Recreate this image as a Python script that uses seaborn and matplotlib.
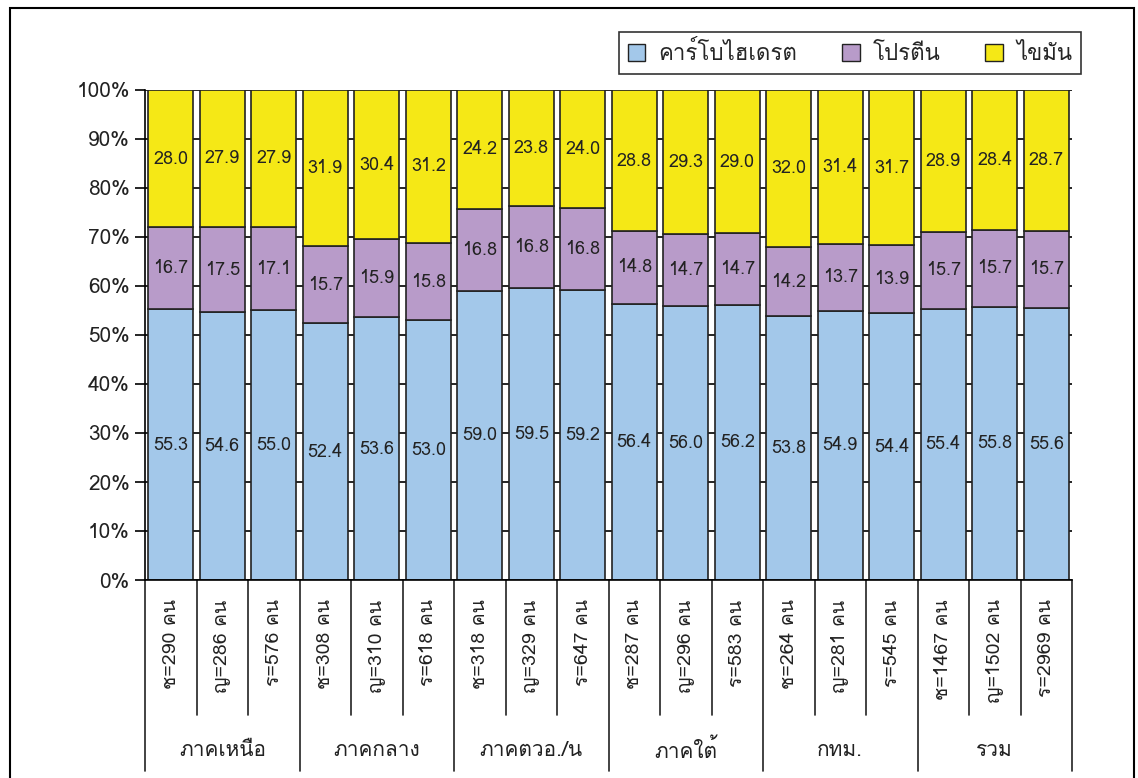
import matplotlib
matplotlib.use("Agg")
import matplotlib.pyplot as plt
import matplotlib.patches as mpatches
from matplotlib import font_manager as fm
from fontTools.ttLib import TTFont
import seaborn as sns
import pandas as pd
import numpy as np

# ── data
groups = ["ภาคเหนือ", "ภาคกลาง", "ภาคตวอ./น", "ภาคใต้", "กทม.", "รวม"]
n_labels = ["ช=290 คน", "ญ=286 คน", "ร=576 คน",
            "ช=308 คน", "ญ=310 คน", "ร=618 คน",
            "ช=318 คน", "ญ=329 คน", "ร=647 คน",
            "ช=287 คน", "ญ=296 คน", "ร=583 คน",
            "ช=264 คน", "ญ=281 คน", "ร=545 คน",
            "ช=1467 คน", "ญ=1502 คน", "ร=2969 คน"]
carb = [55.3, 54.6, 55.0, 52.4, 53.6, 53.0, 59.0, 59.5, 59.2,
        56.4, 56.0, 56.2, 53.8, 54.9, 54.4, 55.4, 55.8, 55.6]
protein = [16.7, 17.5, 17.1, 15.7, 15.9, 15.8, 16.8, 16.8, 16.8,
           14.8, 14.7, 14.7, 14.2, 13.7, 13.9, 15.7, 15.7, 15.7]
fat = [28.0, 27.9, 27.9, 31.9, 30.4, 31.2, 24.2, 23.8, 24.0,
       28.8, 29.3, 29.0, 32.0, 31.4, 31.7, 28.9, 28.4, 28.7]
series_names = ["คาร์โบไฮเดรต", "โปรตีน", "ไขมัน"]
colors = ["#A3C8EA", "#B89BC9", "#F5E816"]

# ── find a font with Thai glyphs
def thai_font():
    for f in fm.fontManager.ttflist:
        try:
            cmap = TTFont(f.fname, fontNumber=0, lazy=True).getBestCmap()
        except Exception:
            continue
        if cmap and ord("ค") in cmap and ord("0") in cmap:
            return f.name
    return "DejaVu Sans"

sns.set_style("white")
FONT = thai_font()
plt.rcParams["font.family"] = [FONT, "DejaVu Sans"]

df = pd.DataFrame({"label": n_labels, "carb": carb, "protein": protein, "fat": fat})
df["c1"] = df["carb"] + df["protein"]

fig = plt.figure(figsize=(11.38, 7.78), dpi=100)
ax = fig.add_axes([145/1138, 198/778, 927/1138, 490/778])

# gridlines first
for v in range(0, 101, 10):
    ax.axhline(v, color="black", lw=1.2, zorder=0)

bar_kw = dict(order=n_labels, width=0.88, edgecolor="#222222", linewidth=1.2,
              saturation=1, ax=ax, zorder=2)
sns.barplot(data=df, x="label", y="carb", color=colors[0], **bar_kw)
sns.barplot(data=df, x="label", y="protein", bottom=df["carb"], color=colors[1], **bar_kw)
sns.barplot(data=df, x="label", y="fat", bottom=df["c1"], color=colors[2], **bar_kw)

# value labels
for i in range(len(n_labels)):
    for bot, val in [(0, carb[i]), (carb[i], protein[i]), (carb[i] + protein[i], fat[i])]:
        ax.text(i, bot + val / 2, f"{val:.1f}", ha="center", va="center",
                fontsize=13, color="#222222", zorder=3)

ax.set_ylim(0, 100)
ax.set_xlim(-0.5, len(n_labels) - 0.5)
ax.set_yticks(range(0, 101, 10))
ax.set_yticklabels([f"{v}%" for v in range(0, 101, 10)], fontsize=15, color="#222222")
ax.tick_params(axis="y", direction="out", length=7, width=1.2, color="black", left=True, pad=4)
ax.set_xticks(range(len(n_labels)))
ax.set_xticklabels(n_labels, rotation=90, fontsize=14, color="#222222", va="top")
ax.tick_params(axis="x", length=0, pad=14)
ax.set_xlabel("")
ax.set_ylabel("")
for s in ["top", "right"]:
    ax.spines[s].set_visible(False)
ax.spines["left"].set_color("black")
ax.spines["bottom"].set_color("black")
ax.spines["left"].set_linewidth(1.2)
ax.spines["bottom"].set_linewidth(1.2)

# category separators below the axis
trans = ax.get_xaxis_transform()
for k in range(len(n_labels) + 1):
    xb = k - 0.5
    low = -0.39 if k % 3 == 0 else -0.275
    ax.plot([xb, xb], [0, low], color="#222222", lw=1.2, transform=trans, clip_on=False)
for g, name in enumerate(groups):
    ax.text(g * 3 + 1, -0.347, name, transform=trans, ha="center", va="center",
            fontsize=15, color="#222222")

# legend
handles = [mpatches.Patch(facecolor=c, edgecolor="#222222", label=n) for c, n in zip(colors, series_names)]
leg = fig.legend(handles=handles, loc="center", bbox_to_anchor=(850/1138, 1 - 53/778), ncol=3,
                 fontsize=16, frameon=True, fancybox=False, edgecolor="black",
                 handlelength=0.8, handleheight=0.8, columnspacing=2.0, handletextpad=0.6)
leg.get_frame().set_linewidth(1.2)

# outer frame
fig.patches.append(mpatches.Rectangle((10/1138, -0.05), 1124/1138, 1.05 - 8/778,
                                      transform=fig.transFigure, fill=False,
                                      edgecolor="black", lw=1.5))

fig.savefig("out.png", dpi=100)
